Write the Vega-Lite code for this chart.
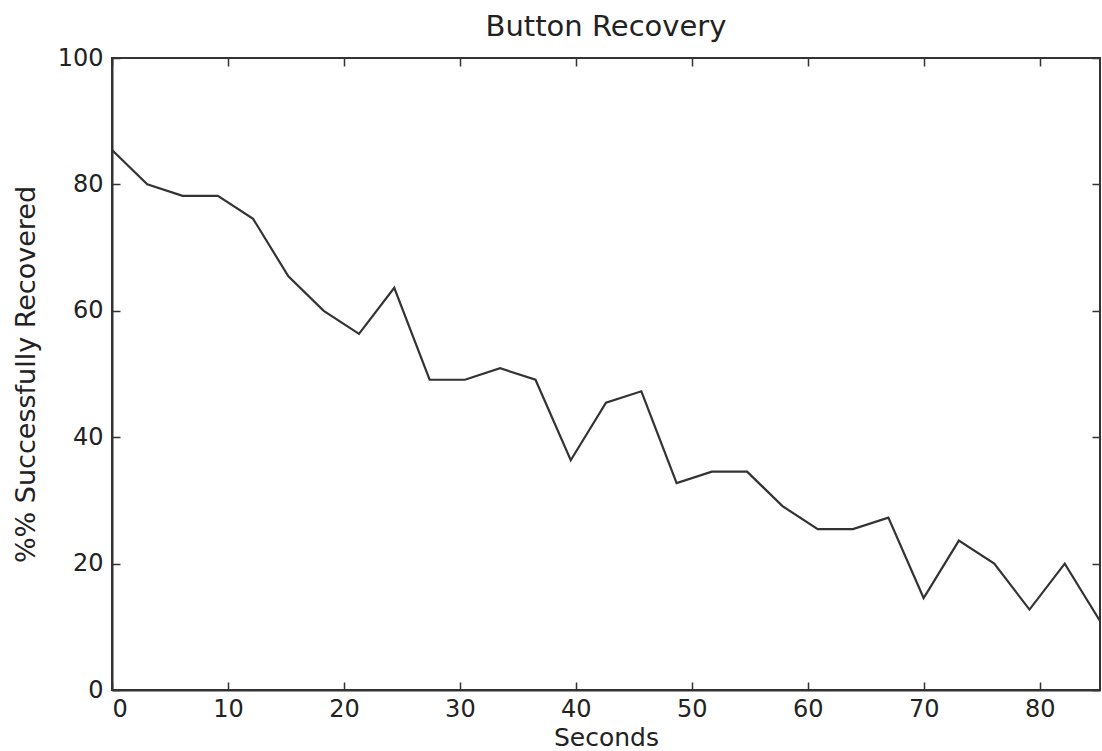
{
  "$schema": "https://vega.github.io/schema/vega-lite/v6.json",
  "width": 988,
  "height": 632,
  "autosize": {"type": "none"},
  "padding": {"left": 112, "top": 58, "right": 2, "bottom": 61},
  "background": "white",
  "title": {"text": "Button Recovery", "font": "DejaVu Sans", "fontSize": 29, "fontWeight": "normal", "color": "#222", "offset": 4},
  "config": {
    "view": {"stroke": "#333", "strokeWidth": 2},
    "axis": {"grid": false, "labelFont": "DejaVu Sans", "titleFont": "DejaVu Sans", "labelFontSize": 24, "titleFontSize": 25, "titleFontWeight": "normal", "labelColor": "#222", "titleColor": "#222", "domainColor": "#333", "domainWidth": 2, "tickColor": "#333", "tickWidth": 1.5, "tickSize": -8}
  },
  "data": {"values": [
    {"s": 0, "p": 85.45},
    {"s": 3.04, "p": 80.0},
    {"s": 6.09, "p": 78.18},
    {"s": 9.13, "p": 78.18},
    {"s": 12.17, "p": 74.55},
    {"s": 15.21, "p": 65.45},
    {"s": 18.26, "p": 60.0},
    {"s": 21.3, "p": 56.36},
    {"s": 24.34, "p": 63.64},
    {"s": 27.39, "p": 49.09},
    {"s": 30.43, "p": 49.09},
    {"s": 33.47, "p": 50.91},
    {"s": 36.52, "p": 49.09},
    {"s": 39.56, "p": 36.36},
    {"s": 42.6, "p": 45.45},
    {"s": 45.65, "p": 47.27},
    {"s": 48.69, "p": 32.73},
    {"s": 51.73, "p": 34.55},
    {"s": 54.77, "p": 34.55},
    {"s": 57.82, "p": 29.09},
    {"s": 60.86, "p": 25.45},
    {"s": 63.9, "p": 25.45},
    {"s": 66.95, "p": 27.27},
    {"s": 69.99, "p": 14.55},
    {"s": 73.03, "p": 23.64},
    {"s": 76.08, "p": 20.0},
    {"s": 79.12, "p": 12.73},
    {"s": 82.16, "p": 20.0},
    {"s": 85.2, "p": 10.91}
  ]},
  "resolve": {"axis": {"x": "independent", "y": "independent"}},
  "layer": [
    {
      "mark": {"type": "line", "color": "#333", "strokeWidth": 2.2},
      "encoding": {
        "x": {"field": "s", "type": "quantitative", "scale": {"domain": [0, 85.2], "nice": false}, "axis": {"title": "Seconds", "values": [0,10,20,30,40,50,60,70,80], "labelPadding": 15, "titlePadding": 4}},
        "y": {"field": "p", "type": "quantitative", "scale": {"domain": [0, 100], "nice": false}, "axis": {"title": "%% Successfully Recovered", "titleFontSize": 27, "values": [0,20,40,60,80,100], "labelPadding": 17, "titlePadding": 17}}
      }
    },
    {
      "mark": {"type": "line", "opacity": 0},
      "encoding": {
        "x": {"field": "s", "type": "quantitative", "axis": {"orient": "top", "labels": false, "title": null, "domain": false, "values": [0,10,20,30,40,50,60,70,80]}},
        "y": {"field": "p", "type": "quantitative", "axis": {"orient": "right", "labels": false, "title": null, "domain": false, "values": [0,20,40,60,80,100]}}
      }
    }
  ]
}
